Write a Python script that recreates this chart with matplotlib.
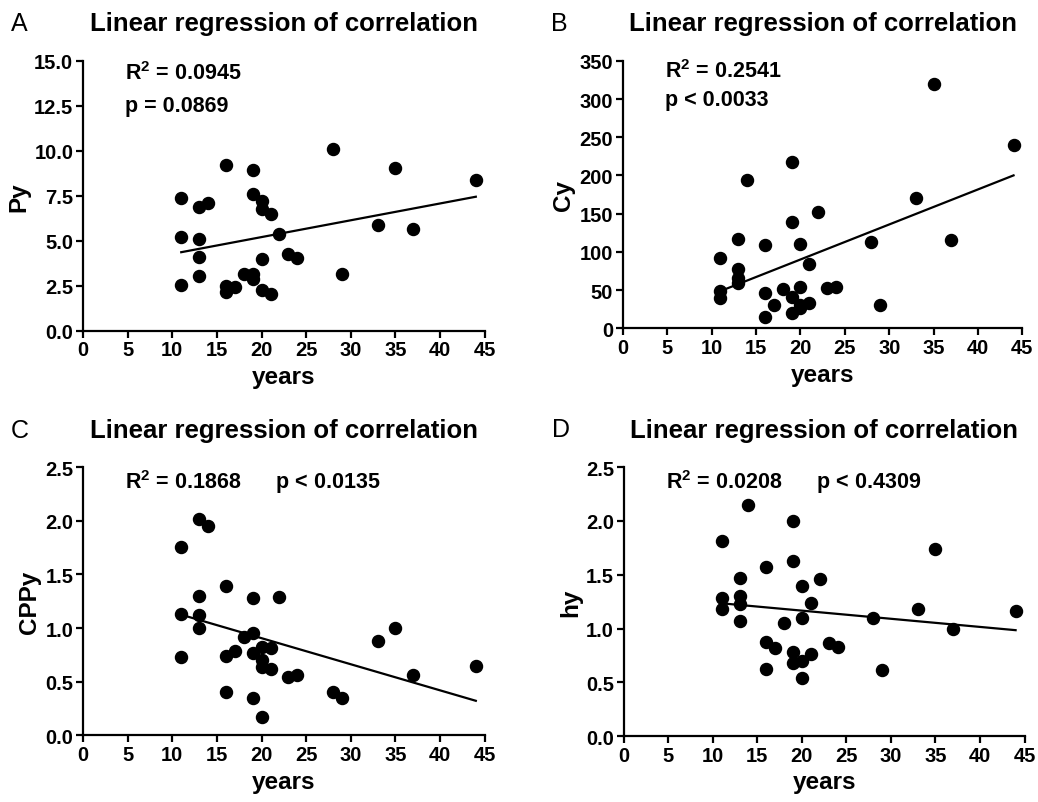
import numpy as np
import matplotlib.pyplot as plt
plt.rc("font", family='Liberation Sans', size=12, weight='bold')
plt.rc("axes", titleweight='bold', labelweight='bold')
plt.rc("mathtext", fontset='custom', rm='Liberation Sans:bold', bf='Liberation Sans:bold')

# years of each subject (shared by all four panels)
years = [11, 11, 11, 13, 13, 13, 13, 14, 16, 16, 16, 17, 18, 19, 19, 19, 19,
         20, 20, 20, 20, 21, 21, 22, 23, 24, 28, 29, 33, 35, 37, 44]

py = [7.37, 5.18, 2.55, 6.87, 5.11, 4.09, 3.02, 7.09, 9.22, 2.46, 2.15, 2.43, 3.17,
      8.91, 7.59, 3.17, 2.89, 7.22, 6.74, 3.96, 2.24, 6.50, 2.06, 5.39, 4.24, 4.06,
      10.1, 3.17, 5.85, 9.06, 5.63, 8.37]

cy = [91.6, 49, 39.5, 116.3, 78, 65.5, 59, 193.6, 109.4, 46, 14.3, 30.8, 51.2,
      217.4, 138.9, 40.8, 19.5, 110.7, 54.3, 26, 30, 84.2, 33.4, 152.3, 52.1, 53.4,
      113.3, 30.8, 170.6, 319.4, 115.9, 240]

cppy = [1.755, 1.135, 0.733, 2.02, 1.30, 1.126, 0.997, 1.954, 1.396, 0.742, 0.405,
        0.788, 0.92, 1.28, 0.957, 0.764, 0.344, 0.825, 0.702, 0.635, 0.175, 0.813,
        0.62, 1.288, 0.543, 0.564, 0.405, 0.344, 0.88, 1.0, 0.564, 0.644]

hy = [1.817, 1.28, 1.18, 1.466, 1.304, 1.227, 1.071, 2.149, 1.568, 0.876, 0.621,
      0.823, 1.056, 2.003, 1.63, 0.783, 0.677, 1.398, 1.096, 0.699, 0.543, 1.236,
      0.761, 1.46, 0.87, 0.829, 1.102, 0.615, 1.18, 1.739, 0.994, 1.16]

panel_letters = ["A", "B", "C", "D"]
ylabels = ["Py", "Cy", "CPPy", "hy"]
stats = [["R$^2$ = 0.0945", "p = 0.0869"],
         ["R$^2$ = 0.2541", "p < 0.0033"],
         ["R$^2$ = 0.1868      p < 0.0135"],
         ["R$^2$ = 0.0208      p < 0.4309"]]
yticks = [np.arange(0, 15.1, 2.5), np.arange(0, 351, 50),
          np.arange(0, 2.51, 0.5), np.arange(0, 2.51, 0.5)]
yfmt = ["%.1f", "%d", "%.1f", "%.1f"]

fig = plt.figure(figsize=(10.38, 8.03), dpi=100)
boxes = [[0.080, 0.587, 0.387, 0.336],
         [0.600, 0.590, 0.385, 0.333],
         [0.080, 0.083, 0.387, 0.334],
         [0.601, 0.082, 0.386, 0.335]]


def regression_panel(ax, x, y, i):
    x = np.array(x, dtype=float)
    y = np.array(y, dtype=float)
    ax.scatter(x, y, s=75, color='black', zorder=3, clip_on=False)
    k, b = np.polyfit(x, y, 1)
    xs = np.array([x.min(), x.max()])
    ax.plot(xs, k*xs + b, color='black', linewidth=1.6)

    ax.set_xlim(0, 45)
    ax.set_xticks(np.arange(0, 46, 5))
    ax.set_ylim(yticks[i][0], yticks[i][-1])
    ax.set_yticks(yticks[i])
    ax.set_yticklabels([yfmt[i] % v for v in yticks[i]])
    for s in ["top", "right"]:
        ax.spines[s].set_visible(False)
    for s in ["left", "bottom"]:
        ax.spines[s].set_linewidth(1.6)
    ax.tick_params(direction='out', length=5, width=1.6, labelsize=14.5, pad=2)

    ax.set_xlabel("years", fontsize=17.5, labelpad=4)
    ax.set_ylabel(ylabels[i], fontsize=17.5, labelpad=3)
    ax.set_title("Linear regression of correlation", fontsize=18.5, pad=22)
    ax.text(-0.18, 1.14, panel_letters[i], transform=ax.transAxes,
            fontsize=18, fontweight='normal', va='center')

    ytop = yticks[i][-1]
    step = yticks[i][1] - yticks[i][0]
    for j, line in enumerate(stats[i]):
        ax.text(4.7, ytop - 0.25*step - j*0.75*step, line, fontsize=15.5, va='center')


data = [py, cy, cppy, hy]
for i in range(4):
    ax = fig.add_axes(boxes[i])
    regression_panel(ax, years, data[i], i)

plt.savefig("out.png", dpi=100)
